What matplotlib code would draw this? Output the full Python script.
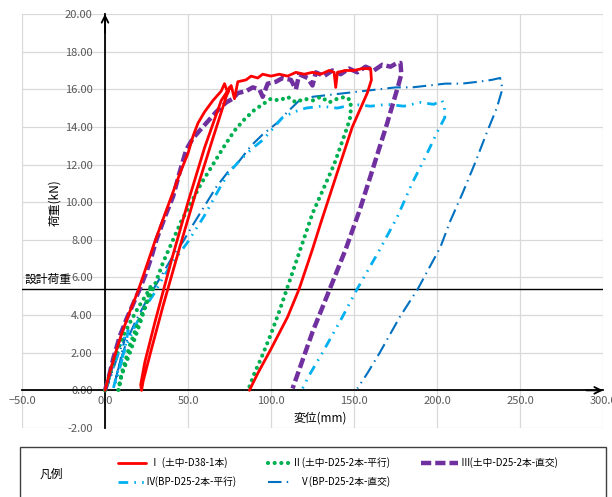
import matplotlib
matplotlib.use("Agg")
import matplotlib.pyplot as plt
from matplotlib.lines import Line2D
from matplotlib.patches import Rectangle

plt.rcParams['font.family'] = ['Noto Sans CJK JP', 'DejaVu Sans']

# ---------------- data ----------------
s1_x = [0, 3, 6, 10, 15, 20, 25, 30, 35, 40, 45, 50, 53, 56, 60, 65, 70, 72, 74, 75,
        73, 65, 55, 45, 35, 28, 23, 22,
        21.5, 24, 30, 40, 50, 60, 70, 76, 78, 80, 85, 88, 92, 95, 100, 105, 110, 115, 120,
        125, 130, 135, 138, 139, 140, 145, 150, 155, 160,
        160.5, 158, 149, 140, 130, 125, 117, 110, 100, 92, 87]
s1_y = [0, 1.0, 1.9, 3.0, 4.2, 5.3, 6.6, 7.9, 9.1, 10.3, 11.5, 12.6, 13.5, 14.2, 14.8, 15.4, 15.9, 16.3, 15.8, 16.1,
        15.6, 13.4, 10.6, 7.6, 4.5, 2.2, 0.5, 0.0,
        0.3, 1.5, 3.6, 6.9, 10.0, 12.9, 15.4, 16.2, 15.5, 16.4, 16.5, 16.7, 16.6, 16.8, 16.7, 16.8, 16.7, 16.9, 16.8,
        16.9, 16.8, 17.0, 16.9, 16.1, 16.9, 17.0, 17.0, 17.1, 17.1,
        16.5, 15.8, 14.0, 11.6, 8.9, 7.5, 5.4, 3.9, 2.2, 0.9, 0.0]

s2_x = [0, 3, 6, 10, 15, 20, 25, 28,
        22, 15, 10, 8,
        10, 15, 20, 25, 30, 35, 41, 46, 52, 58, 65, 72, 78, 84, 90, 95, 100, 105, 110, 115,
        120, 125, 130, 135, 140, 145, 148,
        148, 146, 142, 138, 130, 125, 120, 115, 110, 105, 100, 95, 90, 87]
s2_y = [0, 0.9, 1.8, 2.7, 3.6, 4.4, 5.1, 5.6,
        3.8, 2.0, 0.8, 0.0,
        0.9, 2.4, 3.6, 4.6, 5.6, 6.8, 8.0, 9.0, 10.0, 11.0, 12.0, 13.0, 13.8, 14.4, 14.9, 15.2, 15.5, 15.4, 15.6, 15.3,
        15.5, 15.4, 15.6, 15.3, 15.5, 15.6, 15.4,
        14.6, 14.0, 13.0, 12.0, 10.4, 9.4, 8.1, 6.8, 5.5, 4.2, 3.0, 1.9, 0.9, 0.2]

s3_x = [0, 2, 5, 9, 13, 17, 21, 25, 28, 31, 36, 41, 45, 49, 53, 57, 62, 67, 73, 77, 80, 85,
        89, 93, 95, 98, 103, 107, 112, 115, 117, 122, 125, 127, 132, 137, 142, 147, 152,
        157, 162, 167, 172, 176, 178,
        178.5, 177, 176, 170, 165, 160, 153.5, 145, 135.5, 125, 117, 113]
s3_y = [0, 0.6, 1.7, 2.9, 3.8, 4.6, 5.4, 6.3, 7.1, 8.0, 9.2, 10.3, 11.6, 12.8, 13.4, 13.8, 14.3, 14.8, 15.3, 15.5, 15.8, 15.9,
        16.1, 16.0, 15.6, 16.3, 16.4, 16.6, 16.5, 16.0, 16.8, 16.6, 16.2, 16.9, 16.7, 17.0, 16.8, 17.1, 16.9,
        17.2, 17.0, 17.3, 17.2, 17.4, 17.4,
        16.8, 16.3, 16.0, 14.2, 12.8, 11.4, 9.6, 7.5, 5.4, 3.1, 1.1, 0.1]

s4_x = [0, 3, 6, 10, 14, 12, 8, 5, 7, 12, 18, 24, 30, 35, 40, 45, 50, 55, 60, 65, 70, 75,
        81, 88, 95, 101, 107, 114, 121, 130, 140, 150, 160, 170, 180, 190, 198, 203,
        204.5, 204.7, 200, 193, 185, 176, 165, 152, 143, 131, 123, 119]
s4_y = [0, 0.6, 1.5, 2.5, 3.2, 2.2, 0.9, 0.1, 0.8, 2.2, 3.4, 4.4, 5.2, 6.0, 6.7, 7.3, 7.9, 8.6, 9.3, 10.1, 10.9, 11.6,
        12.2, 12.8, 13.3, 13.9, 14.5, 14.8, 15.0, 15.1, 15.0, 15.2, 15.1, 15.2, 15.1, 15.3, 15.2, 15.4,
        15.1, 14.5, 13.7, 12.4, 11.0, 9.2, 7.4, 5.4, 3.9, 2.0, 0.8, 0.1]

s5_x = [0, 4, 8, 12, 9, 6, 8, 13, 18, 24, 30, 36, 42, 47, 53, 60, 67, 74, 81, 88, 95, 103.5,
        110, 117, 125, 135, 145, 155, 165, 175, 185, 195, 205, 215, 225, 233, 238,
        239, 239, 236, 230, 223, 215.5, 208, 202, 188.5, 177.6, 165.5, 158, 152]
s5_y = [0, 0.9, 1.9, 2.8, 1.5, 0.4, 1.2, 2.6, 3.6, 4.6, 5.5, 6.4, 7.3, 7.9, 8.8, 9.8, 10.8, 11.6, 12.2, 13.0, 13.6, 14.2,
        14.8, 15.4, 15.6, 15.7, 15.8, 15.9, 16.0, 16.1, 16.1, 16.2, 16.3, 16.3, 16.4, 16.5, 16.6,
        16.3, 15.9, 15.0, 13.7, 12.1, 10.5, 9.0, 7.6, 5.4, 3.9, 2.0, 0.9, 0.1]

series_labels = ['Ⅰ (土中-D38-1本)', 'Ⅱ(土中-D25-2本-平行)', 'Ⅲ(土中-D25-2本-直交)',
                 'Ⅳ(BP-D25-2本-平行)', 'Ⅴ(BP-D25-2本-直交)']
design_load = 5.4
x_ticks = [-50, 0, 50, 100, 150, 200, 250, 300]
x_tick_labels = ['−50.0', '0.0', '50.0', '100.0', '150.0', '200.0', '250.0', '300.0']
y_ticks = [-2, 0, 2, 4, 6, 8, 10, 12, 14, 16, 18, 20]
y_tick_labels = ['-2.00', '0.00', '2.00', '4.00', '6.00', '8.00', '10.00', '12.00',
                 '14.00', '16.00', '18.00', '20.00']

# ---------------- styles ----------------
styles = [
    dict(color='#FF0000', lw=2.0, ls='-', solid_capstyle='round'),
    dict(color='#00B050', lw=3.0, ls=(0, (0.001, 1.6)), dash_capstyle='round'),
    dict(color='#7030A0', lw=3.2, ls=(0, (2.3, 0.9))),
    dict(color='#00B0F0', lw=2.0, ls=(0, (3.5, 2.2, 0.6, 2.2, 0.6, 2.2))),
    dict(color='#0070C0', lw=1.5, ls=(0, (6.5, 2.5, 0.7, 2.5))),
]

W, H = 612, 497
fig = plt.figure(figsize=(W / 100, H / 100), dpi=100)
ax = fig.add_axes([22 / W, 1 - 428 / H, (603 - 22) / W, (428 - 14) / H])
ax.set_xlim(-50, 300)
ax.set_ylim(-2, 20)

xs = [s1_x, s2_x, s3_x, s4_x, s5_x]
ys = [s1_y, s2_y, s3_y, s4_y, s5_y]
order = [4, 3, 1, 2, 0]
for i in order:
    ax.plot(xs[i], ys[i], zorder=3 + (4 - i) * 0.1, **styles[i])

ax.set_xticks(x_ticks)
ax.set_xticklabels(x_tick_labels)
ax.set_yticks(y_ticks)
ax.set_yticklabels(y_tick_labels)
ax.grid(True, color='#D9D9D9', lw=0.9)
ax.set_axisbelow(True)
ax.tick_params(axis='both', length=0, labelsize=8, labelcolor='#595959')
ax.tick_params(axis='y', pad=9)
ax.tick_params(axis='x', pad=4)

for s in ['top', 'right']:
    ax.spines[s].set_visible(False)
ax.spines['left'].set_position(('data', 0))
ax.spines['bottom'].set_position(('data', 0))
for s in ['left', 'bottom']:
    ax.spines[s].set_color('black')
    ax.spines[s].set_linewidth(1.3)
    ax.spines[s].set_zorder(2.5)

ax.annotate('', xy=(0, 20), xytext=(0, 19.0),
            arrowprops=dict(arrowstyle='->', lw=1.3, color='black', shrinkA=0, shrinkB=0,
                            mutation_scale=12), annotation_clip=False)
ax.annotate('', xy=(300, 0), xytext=(290, 0),
            arrowprops=dict(arrowstyle='->', lw=1.3, color='black', shrinkA=0, shrinkB=0,
                            mutation_scale=12), annotation_clip=False)

ax.axhline(design_load, color='black', lw=1.0, zorder=2.6)
ax.text(-48.5, design_load + 0.15, '設計荷重', fontsize=8.5, color='black',
        ha='left', va='bottom')

fig.text(55 / W, 1 - 203 / H, '荷重(kN)', rotation=90, fontsize=8.5, ha='center', va='center')
fig.text(320 / W, 1 - 418 / H, '変位(mm)', fontsize=8.5, ha='center', va='center')

# ---------------- legend box ----------------
def fx(px):
    return px / W

def fy(py):
    return 1 - py / H

fig.add_artist(Rectangle((fx(20), fy(520)), fx(606) - fx(20), fy(447) - fy(520),
                         transform=fig.transFigure, fill=False, edgecolor='#404040',
                         lw=1.0, clip_on=False))
fig.text(fx(40), fy(474), '凡例', fontsize=8.5, ha='left', va='center')

leg_pos = [
    (118, 146, 150, 463),
    (268, 290, 292, 463),
    (421, 458, 461, 463),
    (118, 144, 145, 482),
    (268, 290, 300, 482),
]
for i, (x0, x1, xt, yy) in enumerate(leg_pos):
    fig.add_artist(Line2D([fx(x0), fx(x1)], [fy(yy), fy(yy)], transform=fig.transFigure,
                          **styles[i]))
    fig.text(fx(xt), fy(yy), series_labels[i], fontsize=7, ha='left', va='center')

fig.savefig('out.png', dpi=100)
